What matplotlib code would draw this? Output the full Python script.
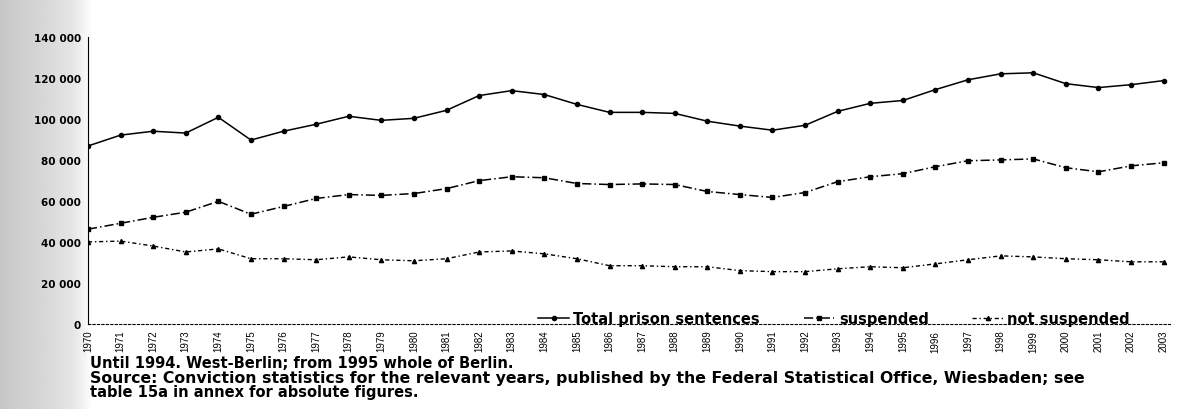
import numpy as np
import matplotlib.pyplot as plt
from matplotlib.ticker import FuncFormatter

# Data
years = list(range(1970, 2004))
total = [86900, 92200, 94100, 93200, 100900, 89800, 94100, 97500, 101400, 99400,
         100400, 104300, 111500, 113900, 112000, 107200, 103300, 103300, 102800, 99000,
         96600, 94600, 97000, 103800, 107700, 109100, 114400, 119200, 122100, 122600,
         117300, 115400, 116800, 118800]
suspended = [46300, 49200, 52100, 54600, 59900, 53600, 57400, 61300, 63200, 62800,
             63700, 66100, 70000, 71900, 71400, 68600, 68100, 68400, 68100, 64700,
             63200, 61800, 64200, 69500, 71900, 73400, 76800, 79700, 80100, 80600,
             76300, 74300, 77200, 78700]
not_suspended = [40100, 40500, 38100, 35200, 36700, 31900, 31900, 31400, 32800, 31400,
                 30900, 31900, 35200, 35700, 34300, 31900, 28500, 28500, 28000, 28000,
                 26100, 25600, 25600, 27000, 28000, 27500, 29400, 31400, 33300, 32800,
                 31900, 31400, 30400, 30400]
series_names = ['Total prison sentences', 'suspended', 'not suspended']
y_ticks = [0, 20000, 40000, 60000, 80000, 100000, 120000, 140000]
notes = ['Until 1994. West-Berlin; from 1995 whole of Berlin.',
         'Source: Conviction statistics for the relevant years, published by the Federal Statistical Office, Wiesbaden; see',
         'table 15a in annex for absolute figures.']

plt.rcParams['font.family'] = ['DejaVu Sans']

fig = plt.figure(figsize=(11.84, 4.10), dpi=100)

# grey scanner edge on the left (background only)
bg = fig.add_axes([0, 0, 0.078, 1], zorder=-5)
shade = np.interp(np.arange(90), [0, 40, 70, 89], [0.78, 0.84, 0.90, 1.0])
bg.imshow(shade[np.newaxis, :], cmap='gray', vmin=0, vmax=1, aspect='auto',
          extent=[0, 1, 0, 1])
bg.axis('off')

ax = fig.add_axes([0.0743, 0.207, 0.914, 0.700])
ax.patch.set_visible(False)

ax.plot(years, total, color='black', lw=1.1, ls='-', marker='o', ms=3,
        label=series_names[0])
ax.plot(years, suspended, color='black', lw=1.1, ls=(0, (6, 2, 1, 2)), marker='s', ms=3,
        label=series_names[1])
ax.plot(years, not_suspended, color='black', lw=1.0, ls=(0, (3, 2, 1, 2)),
        marker='^', ms=3, label=series_names[2])

ax.set_xlim(1970, 2003.2)
ax.set_ylim(0, 140000)
ax.set_xticks(years)
ax.set_xticklabels([str(y) for y in years], rotation=90, fontsize=7,
                   family='Liberation Sans')
ax.set_yticks(y_ticks)
ax.yaxis.set_major_formatter(FuncFormatter(lambda v, p: f'{int(v):,}'.replace(',', ' ')))
for lab in ax.get_yticklabels():
    lab.set_fontsize(7.5)
    lab.set_fontweight('bold')
ax.tick_params(axis='y', length=0, pad=5)
ax.tick_params(axis='x', length=0, pad=4)

for s in ['top', 'right']:
    ax.spines[s].set_visible(False)
ax.spines['left'].set_linestyle((0, (4, 1)))
ax.spines['bottom'].set_linestyle((0, (2, 2)))
ax.spines['left'].set_linewidth(0.8)
ax.spines['bottom'].set_linewidth(0.8)

leg = ax.legend(loc='center right', bbox_to_anchor=(0.963, 0.02), ncol=3,
                frameon=False, handlelength=2.1, handletextpad=0.3,
                columnspacing=3.0, borderpad=0, borderaxespad=0,
                prop={'weight': 'bold', 'size': 10.5})

fig.text(0.076, 0.1146, notes[0], fontsize=10.5, fontweight='bold', va='center')
fig.text(0.076, 0.0780, notes[1], fontsize=11.3, fontweight='bold', va='center')
fig.text(0.076, 0.0415, notes[2], fontsize=10.5, fontweight='bold', va='center')

fig.savefig('out.png', dpi=100)
